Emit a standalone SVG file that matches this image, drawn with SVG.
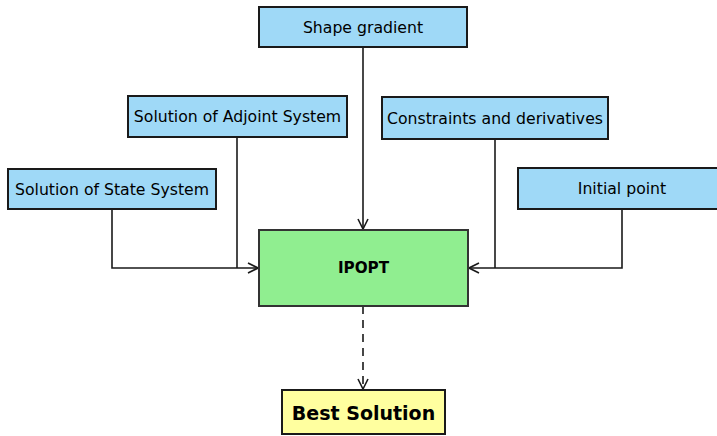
<svg xmlns="http://www.w3.org/2000/svg" width="717" height="436" viewBox="0 0 717 436">
<defs>
<style>
.in{fill:#9fd9f7;stroke:#1a1a1a;stroke-width:2}
.t{font-family:"DejaVu Sans",sans-serif;font-size:15.7px;fill:#000;text-anchor:middle;dominant-baseline:central}
.c{fill:none;stroke:#1a1a1a;stroke-width:1.6}
</style>
<marker id="ah" viewBox="0 0 12 12" refX="11" refY="6" markerWidth="12" markerHeight="12" markerUnits="userSpaceOnUse" orient="auto">
<path d="M1,1 L11,6 L1,11" fill="none" stroke="#1a1a1a" stroke-width="1.6"/>
</marker>
</defs>
<rect width="717" height="436" fill="#fff"/>
<g id="connectors">
<path class="c" d="M363,47 V229" marker-end="url(#ah)"/>
<path class="c" d="M112,209 V268 H258" marker-end="url(#ah)"/>
<path class="c" d="M237,137 V268"/>
<path class="c" d="M622,209 V268 H469" marker-end="url(#ah)"/>
<path class="c" d="M495,139 V268"/>
<path class="c" d="M363,306 V389" stroke-dasharray="8,6" marker-end="url(#ah)"/>
</g>
<g id="shape-gradient"><rect class="in" x="259" y="7" width="208" height="40"/><text class="t" x="363" y="27">Shape gradient</text></g>
<g id="adjoint"><rect class="in" x="128" y="96" width="219" height="41"/><text class="t" x="237.5" y="116.5">Solution of Adjoint System</text></g>
<g id="state"><rect class="in" x="8" y="169" width="208" height="40"/><text class="t" x="112" y="189">Solution of State System</text></g>
<g id="constraints"><rect class="in" x="382" y="97" width="226" height="42"/><text class="t" x="495" y="118">Constraints and derivatives</text></g>
<g id="initial"><rect class="in" x="518" y="168" width="205" height="41"/><text class="t" x="622" y="188.5">Initial point</text></g>
<g id="ipopt"><rect x="259" y="230" width="209" height="76" fill="#90ee90" stroke="#333" stroke-width="2"/><text class="t" x="363.5" y="268" style="font-weight:bold;font-size:15.2px">IPOPT</text></g>
<g id="best"><rect x="282" y="390" width="163" height="44" fill="#ffff9f" stroke="#1a1a1a" stroke-width="2"/><text class="t" x="363.5" y="412.5" style="font-weight:bold;font-size:19px">Best Solution</text></g>
</svg>
